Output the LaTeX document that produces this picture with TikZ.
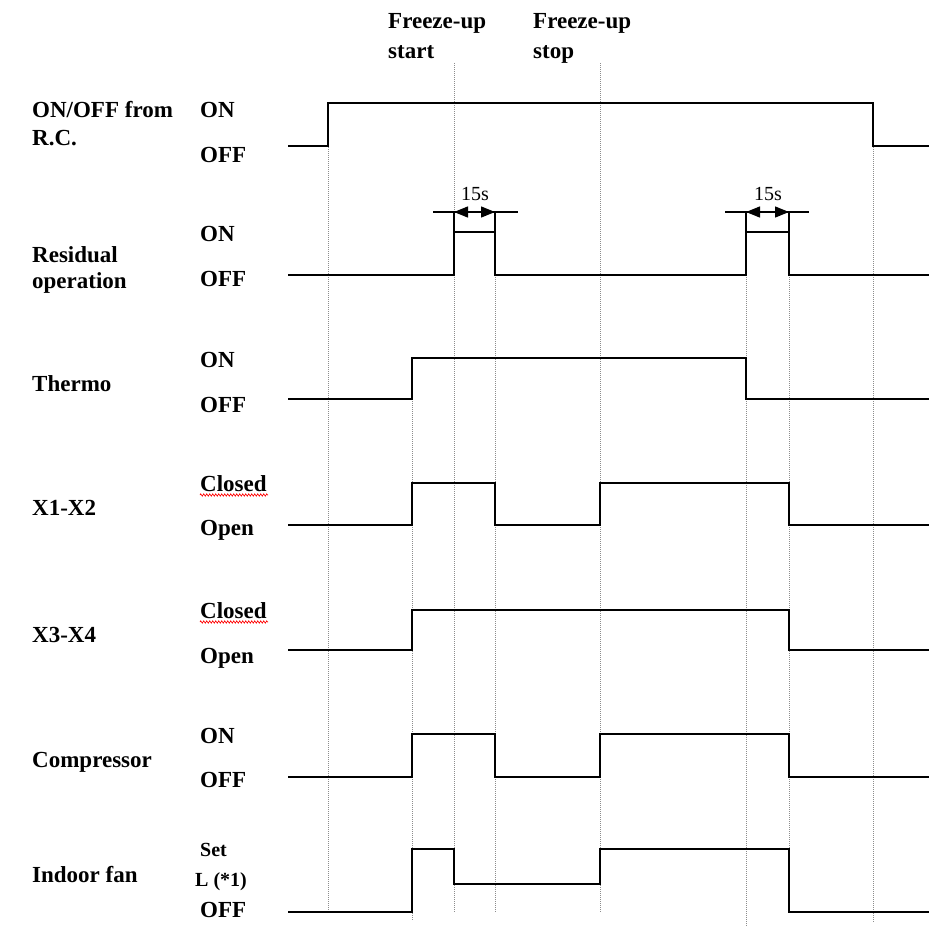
\documentclass[tikz,border=0pt]{standalone}
\usepackage{fontspec}
\setmainfont{Liberation Serif}
\usetikzlibrary{arrows.meta,decorations.pathmorphing}
\begin{document}
\begin{tikzpicture}[x=1pt,y=-1pt,
  lab/.style={anchor=base west,inner sep=0pt,font=\fontsize{23}{26}\selectfont\bfseries},
  smalllab/.style={anchor=base west,inner sep=0pt,font=\fontsize{20}{24}\selectfont\bfseries},
  dur/.style={anchor=base,inner sep=0pt,font=\fontsize{20}{24}\selectfont},
  sig/.style={line width=2pt,line join=miter},
  grid/.style={draw=black!45,line width=1pt,dash pattern=on 1pt off 1pt},
  dimline/.style={line width=1.3pt},
  dimarrow/.style={line width=1.3pt,{Triangle[length=14pt,width=11pt]}-{Triangle[length=14pt,width=11pt]}},
  squig/.style={red,line width=0.6pt,decorate,decoration={zigzag,amplitude=1.2pt,segment length=3pt}}]
\useasboundingbox (0,0) rectangle (929,927);
\fill[white] (0,0) rectangle (929,927);
% dotted time markers
\draw[grid] (328,147) -- (328,912);
\draw[grid] (412,399) -- (412,920);
\draw[grid] (454,63) -- (454,912);
\draw[grid] (495,213) -- (495,912);
\draw[grid] (600,63) -- (600,912);
\draw[grid] (746,213) -- (746,927);
\draw[grid] (789,213) -- (789,912);
\draw[grid] (873,147) -- (873,923);
% header
\node[lab] (fs1) at (388,28) {Freeze-up};
\node[lab] (fs2) at (388,58) {start};
\node[lab] (fp1) at (533,28) {Freeze-up};
\node[lab] (fp2) at (533,58) {stop};
% row labels
\node[lab] (r1a) at (32,117) {ON/OFF from};
\node[lab] (r1b) at (32,145) {R.C.};
\node[lab] (r1on) at (200,117) {ON};
\node[lab] (r1off) at (200,162) {OFF};
\node[lab] (r2a) at (32,262) {Residual};
\node[lab] (r2b) at (32,288) {operation};
\node[lab] (r2on) at (200,241) {ON};
\node[lab] (r2off) at (200,286) {OFF};
\node[lab] (r3a) at (32,391) {Thermo};
\node[lab] (r3on) at (200,367) {ON};
\node[lab] (r3off) at (200,412) {OFF};
\node[lab] (r4a) at (32,515) {X1-X2};
\node[lab] (r4on) at (200,491) {Closed};
\node[lab] (r4off) at (200,535) {Open};
\node[lab] (r5a) at (32,642) {X3-X4};
\node[lab] (r5on) at (200,618) {Closed};
\node[lab] (r5off) at (200,663) {Open};
\node[lab] (r6a) at (32,767) {Compressor};
\node[lab] (r6on) at (200,743) {ON};
\node[lab] (r6off) at (200,787) {OFF};
\node[lab] (r7a) at (32,882) {Indoor fan};
\node[smalllab] (r7set) at (200,856) {Set};
\node[smalllab] (r7l) at (195,886) {L (*1)};
\node[lab] (r7off) at (200,917) {OFF};
% spelling squiggles
\draw[squig] (200,495) -- (268,495);
\draw[squig] (200,622) -- (268,622);
% signals
\draw[sig] (288,146) -- (328,146) -- (328,103) -- (873,103) -- (873,146) -- (929,146);
\draw[sig] (288,275) -- (454,275) -- (454,232) -- (495,232) -- (495,275) -- (746,275) -- (746,232) -- (789,232) -- (789,275) -- (929,275);
\draw[sig] (454,232) -- (454,212) (495,232) -- (495,212);
\draw[sig] (746,232) -- (746,212) (789,232) -- (789,212);
\draw[dimline] (433,212) -- (518,212);
\draw[dimline] (725,212) -- (809,212);
\draw[dimarrow] (454,212) -- (495,212);
\draw[dimarrow] (746,212) -- (789,212);
\node[dur] (d1) at (475,200) {15s};
\node[dur] (d2) at (768,200) {15s};
\draw[sig] (288,399) -- (412,399) -- (412,358) -- (746,358) -- (746,399) -- (929,399);
\draw[sig] (288,525) -- (412,525) -- (412,483) -- (495,483) -- (495,525) -- (600,525) -- (600,483) -- (789,483) -- (789,525) -- (929,525);
\draw[sig] (288,650) -- (412,650) -- (412,610) -- (789,610) -- (789,650) -- (929,650);
\draw[sig] (288,777) -- (412,777) -- (412,734) -- (495,734) -- (495,777) -- (600,777) -- (600,734) -- (789,734) -- (789,777) -- (929,777);
\draw[sig] (288,912) -- (412,912) -- (412,849) -- (454,849) -- (454,884) -- (600,884) -- (600,849) -- (789,849) -- (789,912) -- (929,912);
\end{tikzpicture}
\end{document}
